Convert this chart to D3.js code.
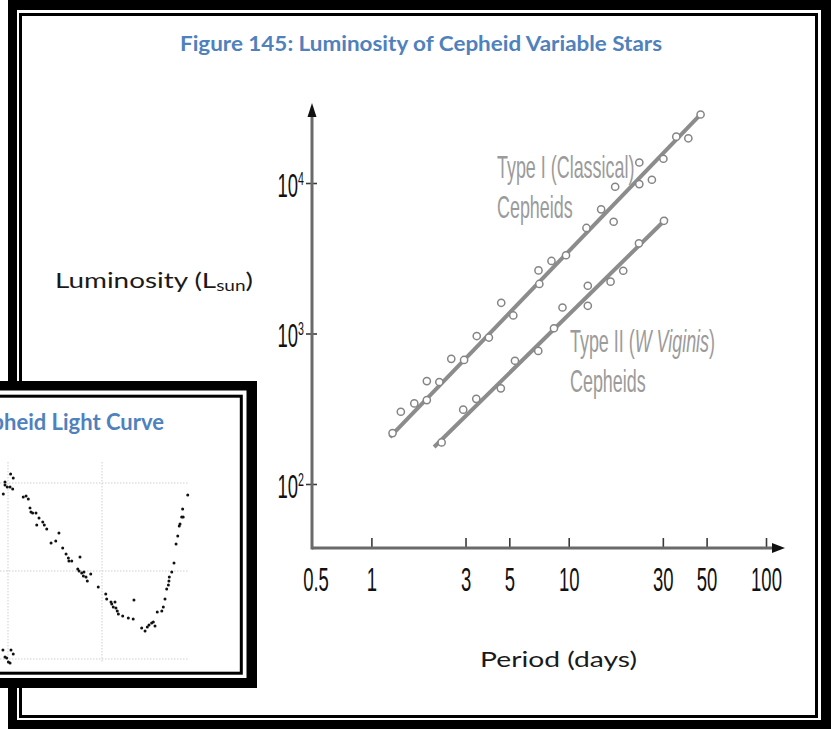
<!DOCTYPE html>
<html><head><meta charset="utf-8">
<script src="https://cdn.jsdelivr.net/npm/d3@7"></script>
<style>html,body{margin:0;padding:0;background:#fff;} svg{display:block;}</style>
</head><body>
<script>
// ---------- DATA ----------
const typeIPeriod = [1.28,1.41,1.65,1.91,1.91,2.21,2.54,2.95,3.42,3.94,4.55,5.24,7.03,7.10,8.18,9.69,12.3,14.6,16.9,17.2,22.8,22.8,26.4,30.2,35.1,40.4,46.6];
const typeILum    = [218,302,343,361,483,476,679,667,962,940,1600,1318,2624,2134,3034,3312,5027,6687,5529,9440,13680,9840,10510,14490,20320,19820,28510];
const typeIIPeriod = [2.27,2.92,3.40,4.53,5.34,7.01,8.42,9.30,12.5,12.5,16.3,18.9,22.7,30.4];
const typeIILum    = [189,312,368,432,659,766,1084,1489,2076,1528,2210,2612,3971,5610];
const typeILinePeriod = [1.24, 47.4];
const typeILineLum    = [205, 29200];
const typeIILinePeriod = [2.08, 31.5];
const typeIILineLum    = [176, 5850];
const periodTicks = [0.5, 1, 3, 5, 10, 30, 50, 100];
const periodTickLabels = ["0.5", "1", "3", "5", "10", "30", "50", "100"];
const lumTicks = [100, 1000, 10000];
const lumTickExponents = ["2", "3", "4"];
const titleText = "Figure 145: Luminosity of Cepheid Variable Stars";
const insetTitleText = "Cepheid Light Curve";
const yLabelMain = "Luminosity (L", yLabelSub = "sun", yLabelEnd = ")";
const xLabelText = "Period (days)";
const typeILabel = ["Type I (Classical)", "Cepheids"];
const typeIILabelA = "Type II (", typeIILabelItalic = "W Viginis", typeIILabelB = ")";
const typeIILabel2 = "Cepheids";
// light curve (phase, magnitude)
const lcPhase = [-0.025,-0.016,-0.016,-0.004,0.014,0.028,0.011,0.025,
  0.081,0.096,0.108,0.117,0.122,0.131,0.149,0.153,0.165,0.185,0.193,0.206,0.229,0.254,0.271,0.291,0.309,0.321,0.324,0.339,
  0.383,0.371,0.378,0.392,0.401,0.404,0.415,0.422,0.44,0.48,0.52,0.525,0.548,0.552,0.56,0.569,0.574,0.581,0.587,0.61,
  0.64,0.666,0.67,0.711,0.729,0.741,0.75,0.764,0.773,0.782,0.794,0.818,0.826,0.835,0.844,0.853,0.856,0.858,0.871,0.883,
  0.894,0.903,0.911,0.915,0.924,0.932,0.929,0.956,
  -0.016,-0.007,0.002,0.011,0.016,0.028,-0.027];
const lcMag = [3.563,3.511,3.494,3.523,3.449,3.472,3.523,3.534,
  3.58,3.574,3.591,3.642,3.665,3.67,3.67,3.739,3.699,3.722,3.739,3.761,3.841,3.83,3.784,3.869,3.903,3.926,3.943,3.943,
  3.92,3.989,4.0,4.011,4.028,4.006,4.034,4.057,4.017,4.091,4.131,4.159,4.176,4.188,4.205,4.176,4.21,4.227,4.244,4.256,
  4.267,4.273,4.165,4.324,4.341,4.318,4.307,4.295,4.29,4.313,4.233,4.227,4.205,4.159,4.102,4.08,4.057,4.034,4.006,3.955,
  3.847,3.801,3.744,3.733,3.693,3.693,3.648,3.568,
  4.489,4.494,4.517,4.523,4.449,4.472,4.449];
const lcPhaseGrid = [0, 0.5];
const lcMagGrid = [3.5, 4.0, 4.5];

// ---------- DRAW ----------
const W = 831, H = 729;
const svg = d3.select("body").append("svg").attr("width", W).attr("height", H);
const blue = "#4F81BD";
const condensed = "'Liberation Sans', Arial, sans-serif";
const sx = 0.56;

// outer frame
svg.append("rect").attr("x", 8).attr("y", 0).attr("width", 823).attr("height", 729).attr("fill", "#000");
svg.append("rect").attr("x", 17).attr("y", 10).attr("width", 804).attr("height", 710).attr("fill", "#fff");
svg.append("rect").attr("x", 20.5).attr("y", 14.5).attr("width", 796).attr("height", 702)
  .attr("fill", "#fff").attr("stroke", "#000").attr("stroke-width", 3);

// title
svg.append("text").attr("x", 421).attr("y", 51).attr("text-anchor", "middle")
  .attr("font-family", "Lato, 'Open Sans', sans-serif").attr("font-weight", "bold").attr("font-size", 20.5)
  .attr("fill", blue).attr("textLength", 482).attr("lengthAdjust", "spacingAndGlyphs").text(titleText);

// scales
const x = d3.scaleLog().domain([0.5, 100]).range([312, 766]);
const y = d3.scaleLog().domain([100, 10000]).range([484, 183]);
const axisY = 548, axisTop = 103, axisRight = 785;
const x0 = x(0.5);

// x axis
const gx = svg.append("g").attr("transform", `translate(0,${axisY})`)
  .call(d3.axisBottom(x).tickValues(periodTicks).tickFormat((d, i) => periodTickLabels[i]).tickSizeInner(-10).tickSizeOuter(0));
gx.select(".domain").remove();
gx.selectAll(".tick line").attr("stroke", "#3a3a3a").attr("stroke-width", 1.6);
gx.selectAll(".tick").filter(d => d === 0.5).select("line").remove();
gx.selectAll(".tick").filter(d => d === 0.5).attr("transform", `translate(${x0 + 4},0)`);
gx.selectAll(".tick text").attr("y", 43).attr("dy", null)
  .attr("font-size", 33).attr("font-family", condensed).attr("fill", "#111")
  .attr("transform", `scale(${sx},1)`);

// y axis
const gy = svg.append("g").attr("transform", `translate(${x0},0)`)
  .call(d3.axisLeft(y).tickValues(lumTicks).tickFormat(() => "").tickSizeInner(6).tickSizeOuter(0));
gy.select(".domain").remove();
gy.selectAll(".tick line").attr("x1", -6).attr("x2", 5).attr("stroke", "#3a3a3a").attr("stroke-width", 1.6);
gy.selectAll(".tick text").remove();
gy.selectAll(".tick").each(function(d, i) {
  const t = d3.select(this).append("g").attr("transform", `translate(-8,13) scale(${sx},1)`)
    .append("text").attr("text-anchor", "end").attr("font-family", condensed).attr("font-size", 33).attr("fill", "#111");
  t.append("tspan").text("10");
  t.append("tspan").attr("font-size", 19).attr("dy", -12).text(lumTickExponents[i]);
});

// axis lines + arrows
svg.append("line").attr("x1", x0).attr("x2", axisRight - 8).attr("y1", axisY).attr("y2", axisY)
  .attr("stroke", "#6a6a6a").attr("stroke-width", 3);
svg.append("line").attr("x1", x0).attr("x2", x0).attr("y1", axisY + 1.5).attr("y2", axisTop + 8)
  .attr("stroke", "#6a6a6a").attr("stroke-width", 3);
svg.append("path").attr("d", `M${axisRight},${axisY} L${axisRight - 13},${axisY - 5} L${axisRight - 13},${axisY + 5} Z`).attr("fill", "#111");
svg.append("path").attr("d", `M${x0},${axisTop} L${x0 - 4.5},${axisTop + 14} L${x0 + 4.5},${axisTop + 14} Z`).attr("fill", "#111");

// fit lines
const lineGen = d3.line().x(d => x(d[0])).y(d => y(d[1]));
svg.append("path").attr("d", lineGen(d3.zip(typeILinePeriod, typeILineLum)))
  .attr("stroke", "#8c8c8c").attr("stroke-width", 4).attr("fill", "none");
svg.append("path").attr("d", lineGen(d3.zip(typeIILinePeriod, typeIILineLum)))
  .attr("stroke", "#8c8c8c").attr("stroke-width", 4).attr("fill", "none");

// points
function pts(ps, ls) {
  svg.append("g").selectAll("circle").data(d3.zip(ps, ls)).join("circle")
    .attr("cx", d => x(d[0])).attr("cy", d => y(d[1])).attr("r", 3.6)
    .attr("fill", "#fff").attr("stroke", "#858585").attr("stroke-width", 1.5);
}
pts(typeIPeriod, typeILum);
pts(typeIIPeriod, typeIILum);

// series labels
const gray = "#9b9b9b";
function condText(xp, yp) {
  return svg.append("g").attr("transform", `translate(${xp},${yp}) scale(${sx},1)`)
    .append("text").attr("font-family", condensed).attr("font-size", 32).attr("fill", gray);
}
condText(497, 178).text(typeILabel[0]);
condText(497, 218).text(typeILabel[1]);
const t2 = condText(570, 352);
t2.append("tspan").text(typeIILabelA);
t2.append("tspan").attr("font-style", "italic").text(typeIILabelItalic);
t2.append("tspan").text(typeIILabelB);
condText(570, 392).text(typeIILabel2);

// axis titles
const yl = svg.append("text").attr("x", 55).attr("y", 288).attr("font-family", "Lato, 'Open Sans', sans-serif")
  .attr("font-size", 22).attr("fill", "#1a1a1a").attr("textLength", 198).attr("lengthAdjust", "spacingAndGlyphs");
yl.append("tspan").text(yLabelMain);
yl.append("tspan").attr("font-size", 15).attr("dy", 3).text(yLabelSub);
yl.append("tspan").attr("dy", -3).text(yLabelEnd);
svg.append("text").attr("x", 480).attr("y", 667).attr("font-family", "Lato, 'Open Sans', sans-serif")
  .attr("font-size", 22).attr("fill", "#1a1a1a").attr("textLength", 157).attr("lengthAdjust", "spacingAndGlyphs")
  .text(xLabelText);

// ---------- INSET (light curve) ----------
const inset = svg.append("g");
inset.append("rect").attr("x", -10).attr("y", 381).attr("width", 267).attr("height", 307).attr("fill", "#000");
inset.append("rect").attr("x", -10).attr("y", 390.5).attr("width", 256.5).attr("height", 287.5).attr("fill", "#fff");
inset.append("rect").attr("x", -10).attr("y", 396.2).attr("width", 251.3).attr("height", 277).attr("fill", "#fff")
  .attr("stroke", "#000").attr("stroke-width", 3);
inset.append("text").attr("x", 164).attr("y", 430).attr("text-anchor", "end")
  .attr("font-family", "Lato, 'Open Sans', sans-serif").attr("font-weight", "bold").attr("font-size", 22)
  .attr("fill", blue).text(insetTitleText);

const lcX = d3.scaleLinear().domain([0, 1]).range([8, 196]);
const lcY = d3.scaleLinear().domain([3.5, 4.5]).range([483, 659]);
const gridStyle = s => s.attr("stroke", "#cfcfcf").attr("stroke-width", 1).attr("stroke-dasharray", "1.5,1.5");
inset.append("g").selectAll("line").data(lcPhaseGrid).join("line")
  .attr("x1", d => lcX(d)).attr("x2", d => lcX(d)).attr("y1", 462).attr("y2", 663).call(gridStyle);
inset.append("g").selectAll("line").data(lcMagGrid).join("line")
  .attr("x1", 0).attr("x2", 188).attr("y1", d => lcY(d)).attr("y2", d => lcY(d)).call(gridStyle);
inset.append("g").selectAll("circle").data(d3.zip(lcPhase, lcMag)).join("circle")
  .attr("cx", d => lcX(d[0])).attr("cy", d => lcY(d[1])).attr("r", 1.5).attr("fill", "#111");
</script>
</body></html>
